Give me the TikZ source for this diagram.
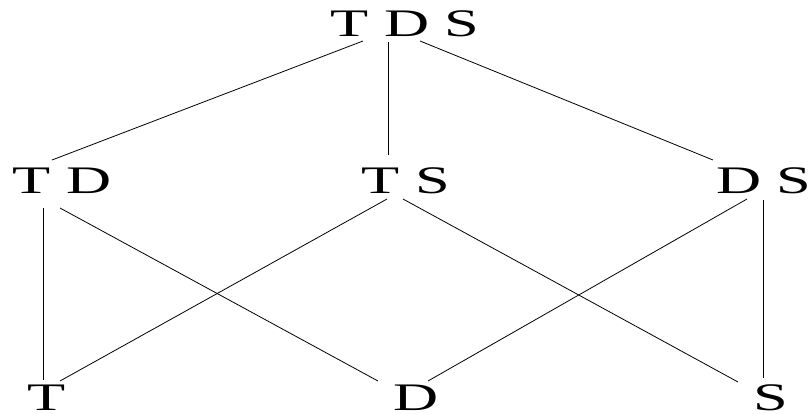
\documentclass[tikz,border=0pt]{standalone}
\usepackage{fontspec}
\usepackage{graphicx}
\setmainfont{Liberation Serif}
\tikzset{
  setlabel/.style={inner sep=0pt, anchor=base},
  edge/.style={line width=0.8pt, black},
}
\newcommand{\lbl}[1]{\fontsize{39}{39}\selectfont\scalebox{1.6}[1]{#1}}
\begin{document}
\begin{tikzpicture}[x=1pt,y=-1pt]
\useasboundingbox (0,0) rectangle (809,413);
% nodes
\node[setlabel] (tds) at (405,36) {\lbl{T D S}};
\node[setlabel] (td) at (62,193) {\lbl{T D}};
\node[setlabel] (ts) at (406,193) {\lbl{T S}};
\node[setlabel] (ds) at (764,193) {\lbl{D S}};
\node[setlabel] (t) at (47,410) {\lbl{T}};
\node[setlabel] (d) at (416,410) {\lbl{D}};
\node[setlabel] (s) at (771,410) {\lbl{S}};
% connector ends
\coordinate (tdsL) at (363,41);
\coordinate (tdsM) at (388,42);
\coordinate (tdsR) at (420,41);
\coordinate (tdU) at (52,160);
\coordinate (tsU) at (388,155);
\coordinate (dsU) at (713,160);
\coordinate (tdL) at (43,208);
\coordinate (tdR) at (60,208);
\coordinate (tsL) at (387,199);
\coordinate (tsR) at (403,199);
\coordinate (dsL) at (747,199);
\coordinate (dsR) at (763,200);
\coordinate (tU) at (43,380);
\coordinate (tUR) at (60,381);
\coordinate (dUL) at (378,381);
\coordinate (dUR) at (428,381);
\coordinate (sUL) at (738,382);
\coordinate (sU) at (763,378);
% connectors
\draw[edge] (tdsL) -- (tdU);
\draw[edge] (tdsM) -- (tsU);
\draw[edge] (tdsR) -- (dsU);
\draw[edge] (tdL) -- (tU);
\draw[edge] (tdR) -- (dUL);
\draw[edge] (tsL) -- (tUR);
\draw[edge] (tsR) -- (sUL);
\draw[edge] (dsL) -- (dUR);
\draw[edge] (dsR) -- (sU);
\end{tikzpicture}
\end{document}
